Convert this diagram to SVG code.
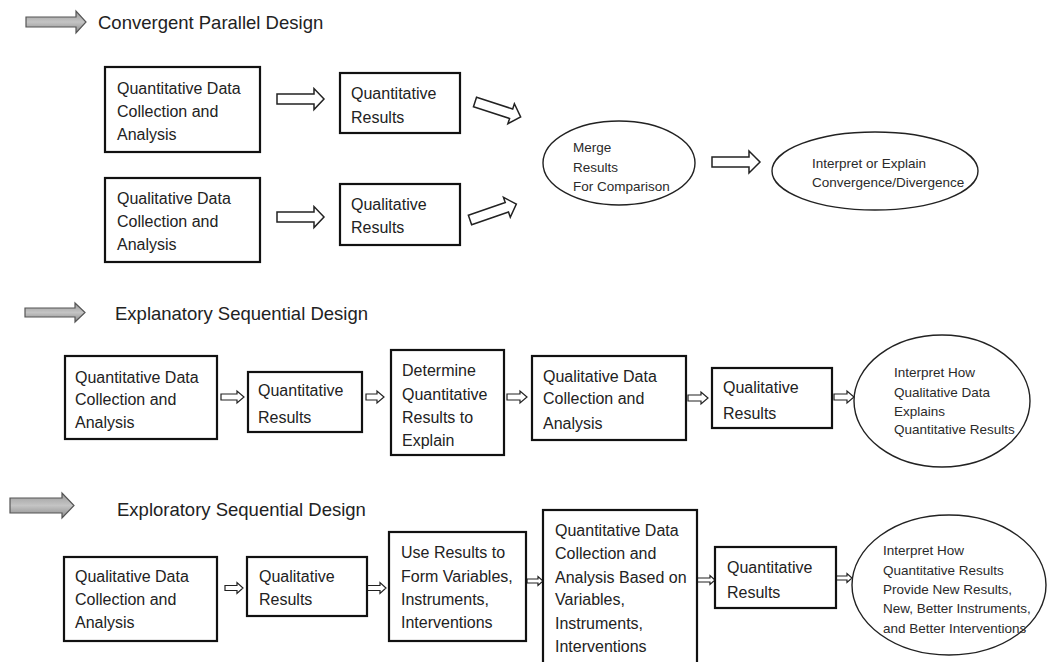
<svg xmlns="http://www.w3.org/2000/svg" width="1047" height="662" viewBox="0 0 1047 662">
<defs>
<linearGradient id="gg" x1="0" y1="0" x2="0" y2="1">
<stop offset="0" stop-color="#9a9a9a"/>
<stop offset="0.5" stop-color="#c4c4c4"/>
<stop offset="1" stop-color="#8a8a8a"/>
</linearGradient>
</defs>
<style>
.box{fill:#fff;stroke:#111;stroke-width:2.2}
.ell{fill:#fff;stroke:#222;stroke-width:1.4}
.t{font-family:"Liberation Sans",Arial,sans-serif;font-size:16px;fill:#222}
.s{font-family:"Liberation Sans",Arial,sans-serif;font-size:13.5px;fill:#2a2a2a}
.h{font-family:"Liberation Sans",Arial,sans-serif;font-size:18.5px;fill:#222}
.ha{fill:#fff;stroke:#222;stroke-width:1.5;stroke-linejoin:miter}
.hs{fill:#fff;stroke:#222;stroke-width:1.2}
.ga{fill:url(#gg);stroke:#555;stroke-width:1.2}
</style>
<rect width="1047" height="662" fill="#fff"/>

<g id="titles">
<path class="ga" d="M26,17 L76,17 L76,11 L86,22 L76,33 L76,27 L26,27 Z"/>
<text class="h" x="98" y="28.5">Convergent Parallel Design</text>
<path class="ga" d="M25,308 L75,308 L75,303 L85,312.5 L75,322 L75,317 L25,317 Z"/>
<text class="h" x="115" y="319.5">Explanatory Sequential Design</text>
<path class="ga" d="M10,498 L62,498 L62,493 L74,505.5 L62,518 L62,513 L10,513 Z"/>
<text class="h" x="117" y="515.5">Exploratory Sequential Design</text>
</g>

<g id="connectors">
<path class="ha" d="M277,94 L314,94 L314,88.5 L324,99 L314,109.5 L314,104 L277,104 Z"/>
<path class="ha" d="M277,212 L314,212 L314,206.5 L324,217 L314,227.5 L314,222 L277,222 Z"/>
<path class="ha" transform="translate(475,102) rotate(18)" d="M0,-5 L38,-5 L38,-10.5 L48,0 L38,10.5 L38,5 L0,5 Z"/>
<path class="ha" transform="translate(470,220) rotate(-19)" d="M0,-5 L39,-5 L39,-10.5 L49,0 L39,10.5 L39,5 L0,5 Z"/>
<path class="ha" d="M712,157 L749,157 L749,151 L760,162 L749,173 L749,167 L712,167 Z"/>

<path class="hs" d="M221,394 L237,394 L237,391 L244,397 L237,403 L237,400 L221,400 Z"/>
<path class="hs" d="M366,394 L377,394 L377,391 L384,397 L377,403 L377,400 L366,400 Z"/>
<path class="hs" d="M507,394 L520,394 L520,391 L527,397 L520,403 L520,400 L507,400 Z"/>
<path class="hs" d="M688,395 L701,395 L701,392 L708,398 L701,404 L701,401 L688,401 Z"/>
<path class="hs" d="M834,394 L847,394 L847,391 L854,397 L847,403 L847,400 L834,400 Z"/>

<path class="hs" d="M225,585.5 L237,585.5 L237,582.5 L243,588 L237,593.5 L237,590.5 L225,590.5 Z"/>
<path class="hs" d="M367,585.5 L380,585.5 L380,582.5 L386,588 L380,593.5 L380,590.5 L367,590.5 Z"/>
<path class="hs" d="M527,579 L538,579 L538,576.5 L543,581 L538,585.5 L538,583 L527,583 Z"/>
<path class="hs" d="M697,578 L710,578 L710,575.5 L715,580 L710,584.5 L710,582 L697,582 Z"/>
<path class="hs" d="M836,576 L847,576 L847,573.5 L852,578 L847,582.5 L847,580 L836,580 Z"/>
</g>

<g id="a1">
<rect class="box" x="105" y="67" width="155" height="85"/>
<text class="t" x="117" y="94">Quantitative Data</text>
<text class="t" x="117" y="117">Collection and</text>
<text class="t" x="117" y="140">Analysis</text>
</g>
<g id="a2">
<rect class="box" x="340" y="73" width="120" height="60"/>
<text class="t" x="351" y="99">Quantitative</text>
<text class="t" x="351" y="123">Results</text>
</g>
<g id="b1">
<rect class="box" x="105" y="178" width="155" height="84"/>
<text class="t" x="117" y="204">Qualitative Data</text>
<text class="t" x="117" y="227">Collection and</text>
<text class="t" x="117" y="250">Analysis</text>
</g>
<g id="b2">
<rect class="box" x="340" y="184" width="120" height="61"/>
<text class="t" x="351" y="210">Qualitative</text>
<text class="t" x="351" y="233">Results</text>
</g>
<g id="merge">
<ellipse class="ell" cx="619" cy="163" rx="76" ry="42"/>
<text class="s" x="573" y="152">Merge</text>
<text class="s" x="573" y="172">Results</text>
<text class="s" x="573" y="191">For Comparison</text>
</g>
<g id="interpret1">
<ellipse class="ell" cx="875" cy="171" rx="103" ry="39"/>
<text class="s" x="812" y="168">Interpret or Explain</text>
<text class="s" x="812" y="187">Convergence/Divergence</text>
</g>

<g id="c1">
<rect class="box" x="65" y="356" width="152" height="83"/>
<text class="t" x="75" y="383">Quantitative Data</text>
<text class="t" x="75" y="405">Collection and</text>
<text class="t" x="75" y="428">Analysis</text>
</g>
<g id="c2">
<rect class="box" x="248" y="372" width="114" height="60"/>
<text class="t" x="258" y="396">Quantitative</text>
<text class="t" x="258" y="423">Results</text>
</g>
<g id="c3">
<rect class="box" x="391" y="350" width="113" height="105"/>
<text class="t" x="402" y="376">Determine</text>
<text class="t" x="402" y="400">Quantitative</text>
<text class="t" x="402" y="423">Results to</text>
<text class="t" x="402" y="446">Explain</text>
</g>
<g id="c4">
<rect class="box" x="532" y="356" width="154" height="84"/>
<text class="t" x="543" y="382">Qualitative Data</text>
<text class="t" x="543" y="404">Collection and</text>
<text class="t" x="543" y="429">Analysis</text>
</g>
<g id="c5">
<rect class="box" x="712" y="368" width="120" height="60"/>
<text class="t" x="723" y="393">Qualitative</text>
<text class="t" x="723" y="419">Results</text>
</g>
<g id="c6">
<ellipse class="ell" cx="942" cy="401" rx="88" ry="66"/>
<text class="s" x="894" y="377">Interpret How</text>
<text class="s" x="894" y="397">Qualitative Data</text>
<text class="s" x="894" y="416">Explains</text>
<text class="s" x="894" y="434">Quantitative Results</text>
</g>

<g id="d1">
<rect class="box" x="64" y="557" width="153" height="84"/>
<text class="t" x="75" y="582">Qualitative Data</text>
<text class="t" x="75" y="605">Collection and</text>
<text class="t" x="75" y="628">Analysis</text>
</g>
<g id="d2">
<rect class="box" x="247" y="557" width="120" height="59"/>
<text class="t" x="259" y="582">Qualitative</text>
<text class="t" x="259" y="605">Results</text>
</g>
<g id="d3">
<rect class="box" x="389" y="532" width="137" height="109"/>
<text class="t" x="401" y="558">Use Results to</text>
<text class="t" x="401" y="582">Form Variables,</text>
<text class="t" x="401" y="605">Instruments,</text>
<text class="t" x="401" y="628">Interventions</text>
</g>
<g id="d4">
<rect class="box" x="543" y="510" width="154" height="165"/>
<text class="t" x="555" y="536">Quantitative Data</text>
<text class="t" x="555" y="559">Collection and</text>
<text class="t" x="555" y="583">Analysis Based on</text>
<text class="t" x="555" y="605">Variables,</text>
<text class="t" x="555" y="629">Instruments,</text>
<text class="t" x="555" y="652">Interventions</text>
</g>
<g id="d5">
<rect class="box" x="715" y="547" width="121" height="61"/>
<text class="t" x="727" y="573">Quantitative</text>
<text class="t" x="727" y="598">Results</text>
</g>
<g id="d6">
<ellipse class="ell" cx="949" cy="585" rx="97" ry="70"/>
<text class="s" x="883" y="555">Interpret How</text>
<text class="s" x="883" y="575">Quantitative Results</text>
<text class="s" x="883" y="594">Provide New Results,</text>
<text class="s" x="883" y="613">New, Better Instruments,</text>
<text class="s" x="883" y="633">and Better Interventions</text>
</g>
</svg>
